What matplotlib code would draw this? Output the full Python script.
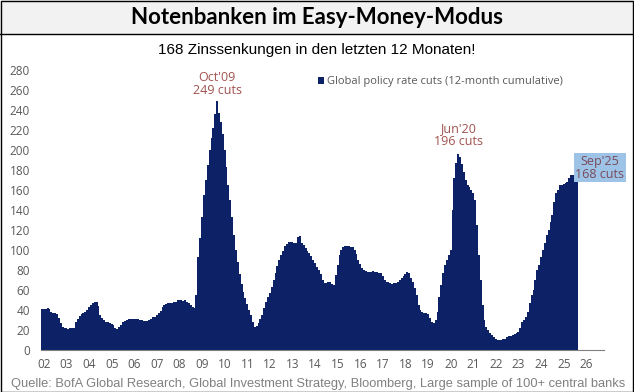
import matplotlib.pyplot as plt
import matplotlib.patches as patches
import numpy as np

# monatliche Werte, Jan 2002 bis Sep 2025 (Global policy rate cuts, 12M kumuliert)
cuts_2002 = [41, 41, 41, 42, 41, 38, 37, 37, 36, 32, 27, 23]
cuts_2003 = [22, 22, 21, 22, 22, 22, 28, 31, 34, 36, 37, 38]
cuts_2004 = [40, 43, 45, 47, 48, 48, 44, 35, 32, 30, 28, 28]
cuts_2005 = [27, 26, 25, 22, 21, 23, 25, 28, 29, 30, 31, 31]
cuts_2006 = [31, 31, 31, 31, 30, 30, 29, 29, 29, 30, 31, 33]
cuts_2007 = [33, 35, 37, 39, 43, 45, 46, 47, 47, 47, 48, 48]
cuts_2008 = [50, 50, 50, 49, 50, 48, 47, 45, 43, 42, 55, 93]
cuts_2009 = [112, 133, 155, 170, 185, 200, 212, 222, 236, 249, 237, 228]
cuts_2010 = [216, 200, 183, 165, 150, 133, 115, 100, 88, 76, 66, 58]
cuts_2011 = [52, 46, 40, 35, 28, 23, 24, 27, 31, 35, 42, 48]
cuts_2012 = [53, 57, 63, 70, 77, 84, 90, 95, 99, 104, 106, 108]
cuts_2013 = [108, 108, 107, 107, 113, 114, 107, 105, 102, 99, 97, 94]
cuts_2014 = [90, 87, 83, 80, 76, 70, 67, 67, 68, 68, 66, 65]
cuts_2015 = [75, 85, 95, 100, 103, 104, 104, 104, 103, 103, 100, 96]
cuts_2016 = [90, 86, 82, 80, 79, 78, 78, 78, 79, 78, 78, 77]
cuts_2017 = [77, 74, 70, 68, 68, 67, 66, 67, 67, 68, 70, 72]
cuts_2018 = [74, 76, 78, 77, 72, 68, 62, 55, 45, 40, 38, 37]
cuts_2019 = [37, 36, 32, 28, 27, 30, 38, 53, 65, 77, 85, 90]
cuts_2020 = [95, 100, 140, 172, 187, 196, 193, 186, 178, 170, 165, 163]
cuts_2021 = [160, 157, 150, 125, 95, 70, 45, 30, 23, 20, 17, 15]
cuts_2022 = [13, 11, 10, 10, 10, 11, 11, 13, 14, 14, 15, 16]
cuts_2023 = [17, 18, 22, 28, 30, 33, 38, 47, 55, 60, 70, 80]
cuts_2024 = [85, 93, 100, 107, 115, 120, 128, 135, 148, 157, 160, 165]
cuts_2025 = [165, 166, 167, 168, 172, 175, 175, 174, 168]

year_labels = ['02', '03', '04', '05', '06', '07', '08', '09', '10', '11', '12', '13',
               '14', '15', '16', '17', '18', '19', '20', '21', '22', '23', '24', '25', '26']
y_ticks = list(range(0, 281, 20))

werte = (cuts_2002 + cuts_2003 + cuts_2004 + cuts_2005 + cuts_2006 + cuts_2007 +
         cuts_2008 + cuts_2009 + cuts_2010 + cuts_2011 + cuts_2012 + cuts_2013 +
         cuts_2014 + cuts_2015 + cuts_2016 + cuts_2017 + cuts_2018 + cuts_2019 +
         cuts_2020 + cuts_2021 + cuts_2022 + cuts_2023 + cuts_2024 + cuts_2025)
werte = np.array(werte)
n = len(werte)
x_kanten = 2002 + np.arange(n + 1) / 12.0

navy = '#0c2166'
grau = '#595959'
rot = '#a0524f'

W, H = 634, 392
fig = plt.figure(figsize=(W / 100, H / 100), dpi=100)

# Titelband
fig.patches.append(patches.Rectangle((0, 1 - 34 / H), 1, 34 / H, transform=fig.transFigure,
                                     facecolor='#f2f2f2', edgecolor='none', zorder=0))
fig.add_artist(plt.Line2D([0, 1], [1 - 34 / H, 1 - 34 / H], transform=fig.transFigure,
                          color='black', lw=1))
fig.patches.append(patches.Rectangle((0.5 / W, 0.5 / H), 1 - 1.5 / W, 1 - 1.5 / H,
                                     transform=fig.transFigure, facecolor='none',
                                     edgecolor='black', lw=1, zorder=5))
fig.text(317 / W, 1 - 17 / H, 'Notenbanken im Easy-Money-Modus', ha='center', va='center',
         fontsize=16, fontweight='bold', family='Lato', color='black')
fig.text(317 / W, 1 - 50 / H, '168 Zinssenkungen in den letzten 12 Monaten!', ha='center',
         va='center', fontsize=11, family='Liberation Sans', color='black')
fig.text(318 / W, 1 - 384 / H,
         'Quelle: BofA Global Research, Global Investment Strategy, Bloomberg, Large sample of 100+ central banks',
         ha='center', va='center', fontsize=9.3, family=['Liberation Sans Narrow', 'Liberation Sans'],
         color='#808080')

# Diagramm
ax_left, ax_right = 41 / W, 604 / W
ax_bottom, ax_top = 1 - 350 / H, 1 - 60 / H
ax = fig.add_axes([ax_left, ax_bottom, ax_right - ax_left, ax_top - ax_bottom])
ax.stairs(werte, x_kanten, fill=True, color=navy, label='Global policy rate cuts (12-month cumulative)')

ax.set_xlim(2002, 2002 + (604 - 41) / 22.6)
ax.set_ylim(0, 290)
ax.set_yticks(y_ticks)
ax.set_xticks(np.arange(2002, 2027) + 0.13)
ax.set_xticklabels(year_labels)
for s in ['top', 'right', 'left']:
    ax.spines[s].set_visible(False)
ax.spines['bottom'].set_color('#808080')
ax.tick_params(axis='both', length=0, colors=grau, labelsize=8.5)
ax.tick_params(axis='y', pad=8)
ax.tick_params(axis='x', pad=6)
for lab in ax.get_xticklabels() + ax.get_yticklabels():
    lab.set_family('Open Sans')

leg = ax.legend(loc='upper left', bbox_to_anchor=((310 - 41) / (604 - 41), 0.97),
                frameon=False, handlelength=0.6, handleheight=0.6, handletextpad=0.2,
                borderaxespad=0.3, prop={'family': 'Open Sans', 'size': 8})
for t in leg.get_texts():
    t.set_color(grau)

# Beschriftungen der Spitzen
ax.annotate("Oct'09\n249 cuts", xy=(2009.79, 249), xytext=(0, 3), textcoords='offset points',
            ha='center', va='bottom', color=rot, fontsize=9, family='Open Sans',
            linespacing=1.0)
ax.annotate("Jun'20\n196 cuts", xy=(2020.46, 196), xytext=(0, 4), textcoords='offset points',
            ha='center', va='bottom', color=rot, fontsize=9, family='Open Sans',
            linespacing=1.0)
ax.annotate("Sep'25\n168 cuts", xy=(2025.75, 175), xytext=(16, -4), textcoords='offset points',
            ha='center', va='bottom', color='#7a4a5a', fontsize=9, family='Open Sans',
            linespacing=1.0, annotation_clip=False,
            bbox=dict(boxstyle='square,pad=0.1', facecolor='#9dc3e6', edgecolor='none'))

fig.savefig('out.png', dpi=100)
